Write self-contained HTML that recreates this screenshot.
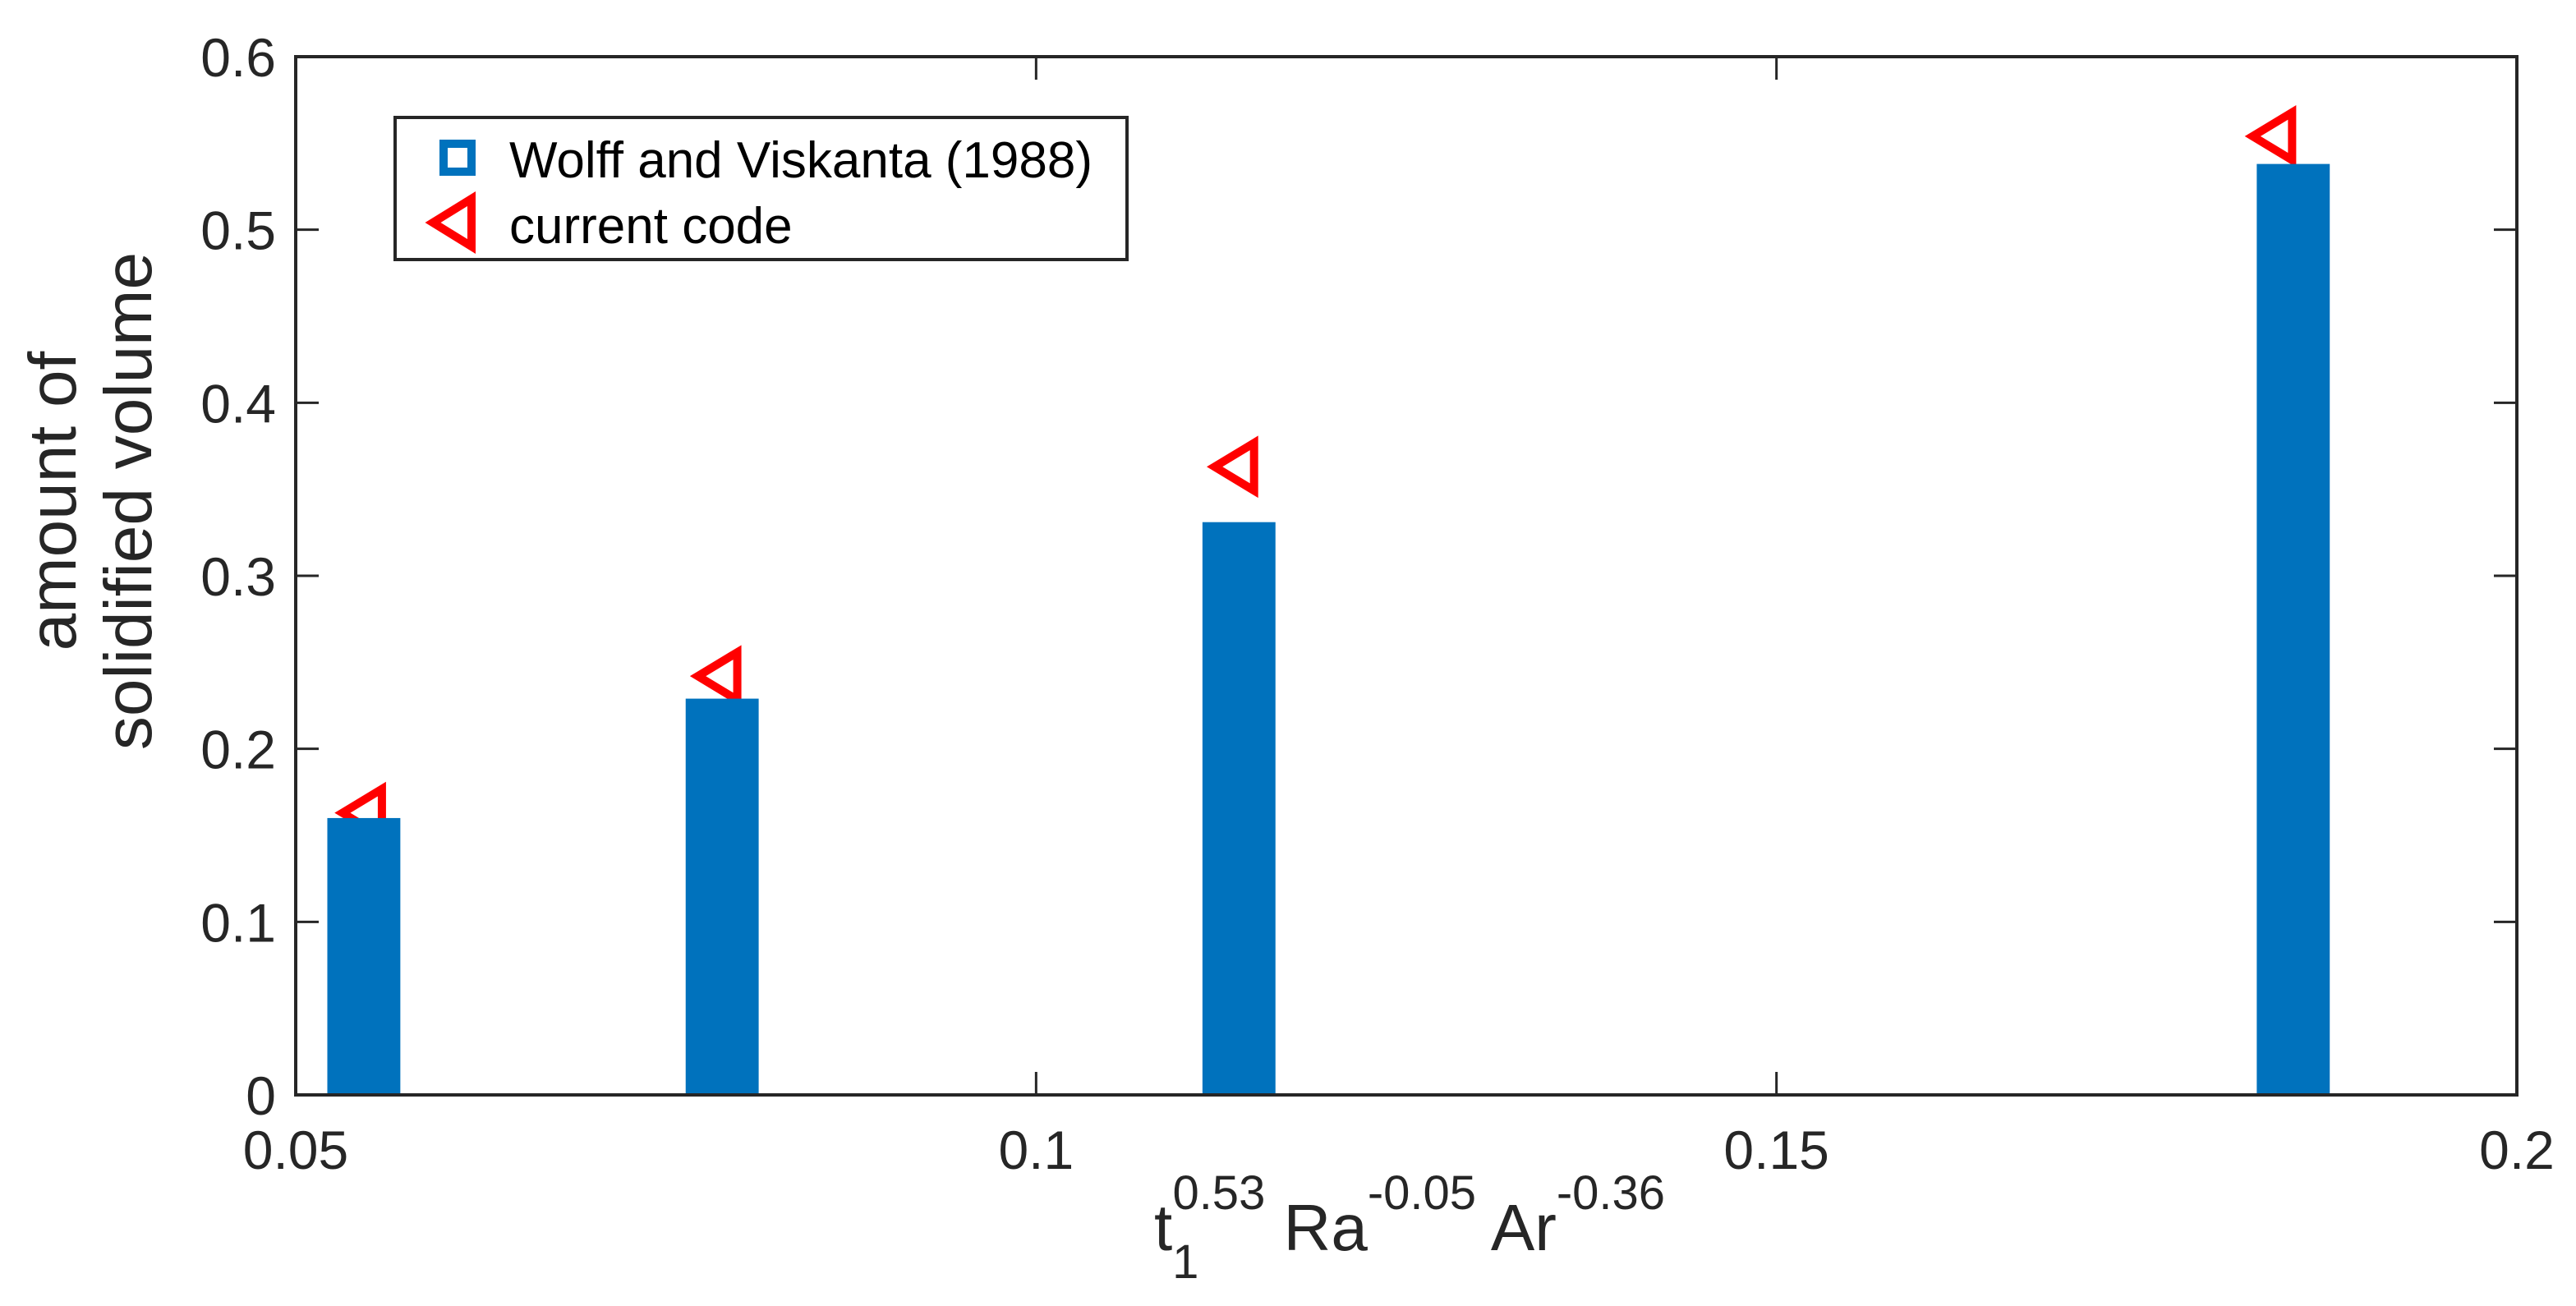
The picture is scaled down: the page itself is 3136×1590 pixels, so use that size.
<!DOCTYPE html>
<html><head><meta charset="utf-8"><style>
html,body{margin:0;padding:0;background:#fff;}
svg{display:block;font-family:"Liberation Sans",Arial,sans-serif;}
</style></head><body>
<svg id="chart" width="3136" height="1590" viewBox="0 0 3136 1590" xmlns="http://www.w3.org/2000/svg">
<rect x="0" y="0" width="3136" height="1590" fill="#fff"/>
<g id="markers"></g>
<g id="bars"></g>
<g id="axes"></g>
<g transform="translate(0,610) rotate(-90)">
<text x="0" y="92" font-size="82" fill="#262626" text-anchor="middle">amount of</text>
<text x="0" y="184" font-size="82" fill="#262626" text-anchor="middle">solidified volume</text>
</g>
<text x="1716" y="1522" font-size="80" fill="#262626" text-anchor="middle">t<tspan font-size="58" dy="34">1</tspan><tspan font-size="58" dx="-32" dy="-84">0.53</tspan><tspan dy="50"> Ra</tspan><tspan font-size="58" dy="-50">-0.05</tspan><tspan dy="50"> Ar</tspan><tspan font-size="58" dy="-50">-0.36</tspan></text>
<g>
<rect x="481" y="143" width="891" height="173" fill="#fff" stroke="#262626" stroke-width="4"/>
<rect x="540" y="175" width="34" height="34" fill="none" stroke="#0072bd" stroke-width="10"/>
<polygon points="527,271 574,242 574,300" fill="none" stroke="#ff0000" stroke-width="10"/>
<text x="620" y="216" font-size="62" fill="#000">Wolff and Viskanta (1988)</text>
<text x="620" y="296" font-size="62" fill="#000">current code</text>
</g>
</svg>
<script>
const barX=[0.0546,0.0788,0.1137,0.1849];
const barValues=[0.160,0.229,0.331,0.538];
const markerX=[0.0546,0.0786,0.1135,0.1836];
const markerValues=[0.163,0.242,0.363,0.554];
const xTicks=[0.05,0.1,0.15,0.2];
const xTickLabels=["0.05","0.1","0.15","0.2"];
const yTicks=[0,0.1,0.2,0.3,0.4,0.5,0.6];
const yTickLabels=["0","0.1","0.2","0.3","0.4","0.5","0.6"];
const barWidth=0.00493;

const L=360,R=3064,T=69,B=1333;
const xs=v=>L+(v-0.05)/(0.2-0.05)*(R-L);
const ys=v=>B-(v-0)/(0.6-0)*(B-T);
const NS="http://www.w3.org/2000/svg";
function mk(tag,parent,attrs){const e=document.createElementNS(NS,tag);for(const k in attrs)e.setAttribute(k,attrs[k]);parent.appendChild(e);return e;}

const gb=document.getElementById('bars');
barX.forEach((x,i)=>{
  const x0=xs(x-barWidth/2),x1=xs(x+barWidth/2);
  const r=mk('rect',gb,{x:x0,y:ys(barValues[i]),width:x1-x0,height:ys(0)-ys(barValues[i]),fill:'#0072bd'});
  
  
});
const gm=document.getElementById('markers');
markerX.forEach((x,i)=>{
  const cx=xs(x),cy=ys(markerValues[i]);
  const p=mk('polygon',gm,{points:`${cx-26},${cy} ${cx+22},${cy-29} ${cx+22},${cy+29}`,fill:'none',stroke:'#ff0000','stroke-width':10});
  
  
});
const ga=document.getElementById('axes');
xTicks.forEach((v,i)=>{
  const x=xs(v);
  mk('line',ga,{x1:x,y1:B,x2:x,y2:B-28,stroke:'#262626','stroke-width':3});
  mk('line',ga,{x1:x,y1:T,x2:x,y2:T+28,stroke:'#262626','stroke-width':3});
  const t=mk('text',ga,{x:x,y:B+90,'font-size':66,fill:'#262626','text-anchor':'middle'});
  t.textContent=xTickLabels[i];
  
  
});
yTicks.forEach((v,i)=>{
  const y=ys(v);
  mk('line',ga,{x1:L,y1:y,x2:L+28,y2:y,stroke:'#262626','stroke-width':3});
  mk('line',ga,{x1:R,y1:y,x2:R-28,y2:y,stroke:'#262626','stroke-width':3});
  const t=mk('text',ga,{x:L-24,y:y+24,'font-size':66,fill:'#262626','text-anchor':'end'});
  t.textContent=yTickLabels[i];
  
  
});
const box=mk('rect',ga,{x:L,y:T,width:R-L,height:B-T,fill:'none',stroke:'#262626','stroke-width':4});


</script>
</body></html>
